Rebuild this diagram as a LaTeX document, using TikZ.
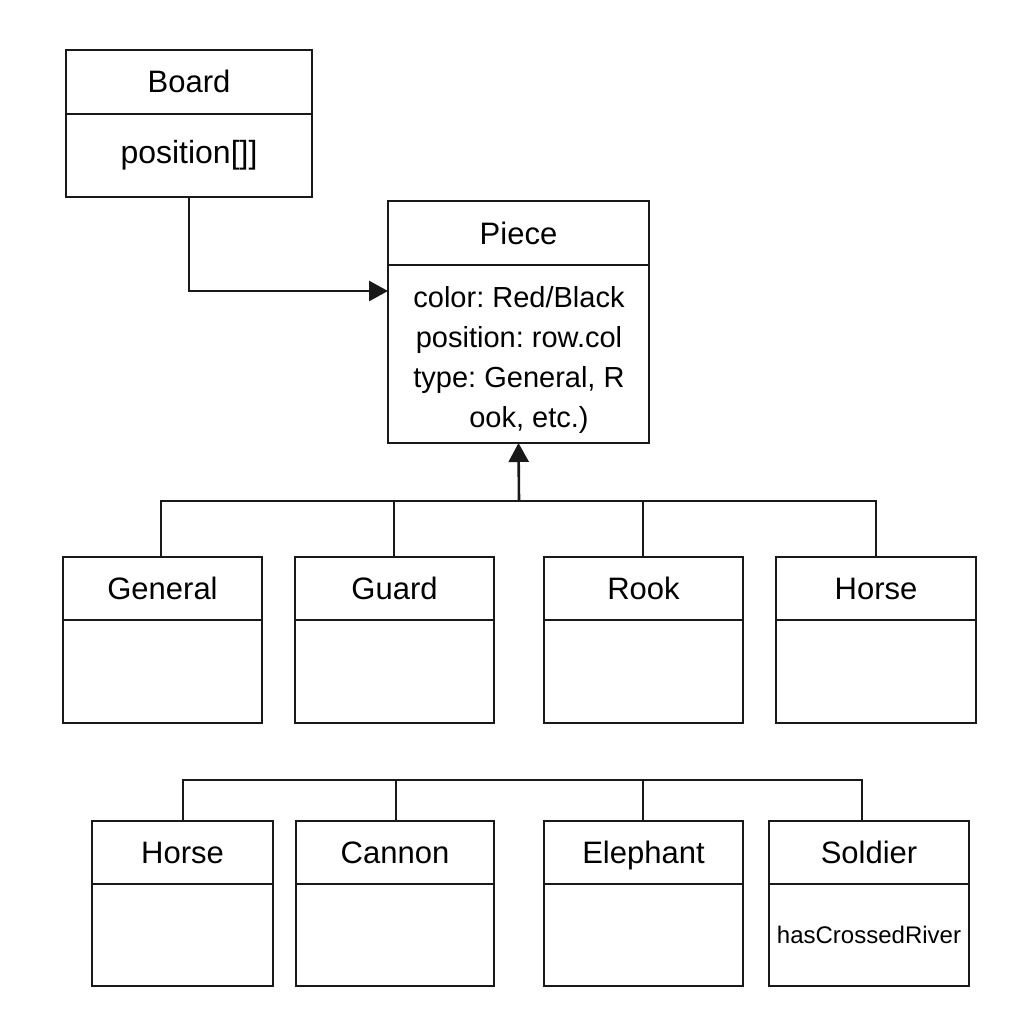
\documentclass[tikz,border=0pt]{standalone}
\usepackage{fontspec}
\setmainfont{Liberation Sans}
\frenchspacing
\usetikzlibrary{arrows.meta}
\begin{document}
\begin{tikzpicture}[x=1pt,y=-1pt,
  line width=2.6pt,
  cls/.style={draw=black!90, line width=2.6pt, rectangle, inner sep=0pt, outer sep=0pt, anchor=north west,
    font=\fontsize{31}{36}\selectfont, text height=22pt, text depth=0pt},
  body/.style={draw=black!90, line width=2.6pt, rectangle, inner sep=0pt, outer sep=0pt, anchor=north,
    font=\fontsize{29}{40}\selectfont},
  conn/.style={draw=black!90, line width=2.6pt},
  tip/.style={-{Triangle[length=19pt,width=20pt]}}
]
\useasboundingbox[fill=white] (0,0) rectangle (1024,1024);

% Board
\node[cls, minimum width=246, minimum height=64] (boardT) at (66,50) {Board};
\node[body, minimum width=246, minimum height=83, font=\fontsize{32}{38}\selectfont, text height=24pt, text depth=7pt] (boardB) at (boardT.south) {position[]]};

% Piece
\node[cls, minimum width=261, minimum height=64] (pieceT) at (388,201) {Piece};
\node[body, minimum width=261, minimum height=178] (pieceB) at (pieceT.south) {};
\node[font=\fontsize{29}{40}\selectfont, align=center, inner sep=0pt] (pieceTxt) at (519,360)
  {color: Red/Black\\position: row.col\\type: General, R\\\hspace*{20pt}ook, etc.)};

% Row 1
\node[cls, minimum width=199, minimum height=63] (genT) at (63,557) {General};
\node[body, minimum width=199, minimum height=103] (genB) at (genT.south) {};
\node[cls, minimum width=199, minimum height=63] (guardT) at (295,557) {Guard};
\node[body, minimum width=199, minimum height=103] (guardB) at (guardT.south) {};
\node[cls, minimum width=199, minimum height=63] (rookT) at (544,557) {Rook};
\node[body, minimum width=199, minimum height=103] (rookB) at (rookT.south) {};
\node[cls, minimum width=200, minimum height=63] (horseAT) at (776,557) {Horse};
\node[body, minimum width=200, minimum height=103] (horseAB) at (horseAT.south) {};

% Row 2
\node[cls, minimum width=181, minimum height=63] (horseBT) at (92,821) {Horse};
\node[body, minimum width=181, minimum height=102] (horseBB) at (horseBT.south) {};
\node[cls, minimum width=198, minimum height=63] (cannonT) at (296,821) {Cannon};
\node[body, minimum width=198, minimum height=102] (cannonB) at (cannonT.south) {};
\node[cls, minimum width=199, minimum height=63] (eleT) at (544,821) {Elephant};
\node[body, minimum width=199, minimum height=102] (eleB) at (eleT.south) {};
\node[cls, minimum width=200, minimum height=63] (solT) at (769,821) {Soldier};
\node[body, minimum width=200, minimum height=102, font=\fontsize{24}{28}\selectfont, text height=17pt, text depth=0pt] (solB) at (solT.south) {hasCrossedRiver};

% Board -> Piece
\draw[conn, tip] (boardB.south) |- (pieceB.west |- 0,291);

% Inheritance bus row 1
\coordinate (bus1) at (519,501);
\coordinate (gen) at (161,557);
\coordinate (gua) at (394,557);
\coordinate (roo) at (643,557);
\coordinate (hoa) at (876,557);
\draw[conn] (gen) -- (gen |- bus1) -- (hoa |- bus1) -- (hoa);
\draw[conn] (gua) -- (gua |- bus1);
\draw[conn] (roo) -- (roo |- bus1);
\draw[conn, tip] (bus1) -- (pieceB.south);

% Bus row 2
\coordinate (bus2) at (519,780);
\coordinate (hob) at (183,821);
\coordinate (can) at (396,821);
\coordinate (ele) at (643,821);
\coordinate (sol) at (862,821);
\draw[conn] (hob) -- (hob |- bus2) -- (sol |- bus2) -- (sol);
\draw[conn] (can) -- (can |- bus2);
\draw[conn] (ele) -- (ele |- bus2);
\end{tikzpicture}
\end{document}
